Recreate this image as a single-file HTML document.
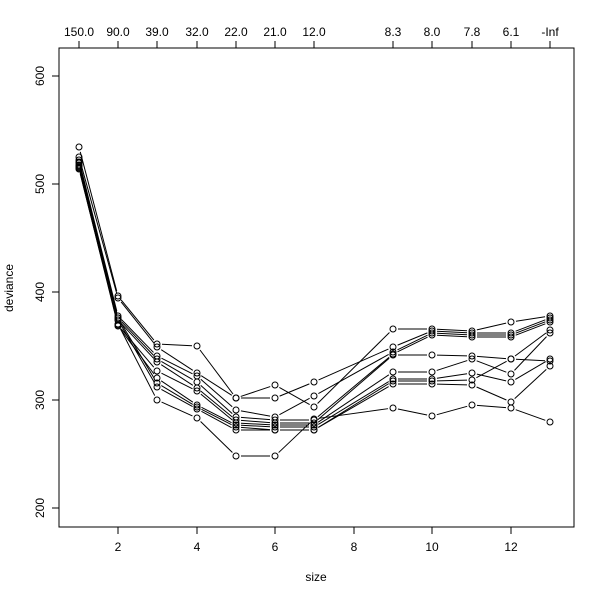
<!DOCTYPE html>
<html><head><style>body{margin:0;background:#fff}</style></head><body>
<svg width="600" height="600" xmlns="http://www.w3.org/2000/svg" font-family="Liberation Sans, sans-serif" font-size="12">
<rect x="59" y="48" width="515" height="479" fill="none" stroke="#000"/>
<g stroke="#000">
<line x1="118" y1="527" x2="118" y2="534"/><line x1="197" y1="527" x2="197" y2="534"/><line x1="275" y1="527" x2="275" y2="534"/><line x1="354" y1="527" x2="354" y2="534"/><line x1="432" y1="527" x2="432" y2="534"/><line x1="511" y1="527" x2="511" y2="534"/>
<line x1="59" y1="76" x2="52" y2="76"/><line x1="59" y1="184" x2="52" y2="184"/><line x1="59" y1="292" x2="52" y2="292"/><line x1="59" y1="400" x2="52" y2="400"/><line x1="59" y1="508" x2="52" y2="508"/>
<line x1="79" y1="48" x2="550" y2="48"/>
<line x1="79" y1="48" x2="79" y2="41"/><line x1="118" y1="48" x2="118" y2="41"/><line x1="157" y1="48" x2="157" y2="41"/><line x1="197" y1="48" x2="197" y2="41"/><line x1="236" y1="48" x2="236" y2="41"/><line x1="275" y1="48" x2="275" y2="41"/><line x1="314" y1="48" x2="314" y2="41"/><line x1="393" y1="48" x2="393" y2="41"/><line x1="432" y1="48" x2="432" y2="41"/><line x1="472" y1="48" x2="472" y2="41"/><line x1="511" y1="48" x2="511" y2="41"/><line x1="550" y1="48" x2="550" y2="41"/>
</g>
<g text-anchor="middle">
<text x="118" y="551">2</text><text x="197" y="551">4</text><text x="275" y="551">6</text><text x="354" y="551">8</text><text x="432" y="551">10</text><text x="511" y="551">12</text>
<text x="79" y="36">150.0</text><text x="118" y="36">90.0</text><text x="157" y="36">39.0</text><text x="197" y="36">32.0</text><text x="236" y="36">22.0</text><text x="275" y="36">21.0</text><text x="314" y="36">12.0</text><text x="393" y="36">8.3</text><text x="432" y="36">8.0</text><text x="472" y="36">7.8</text><text x="511" y="36">6.1</text><text x="550" y="36">-Inf</text>
<text x="316" y="581">size</text>
<g transform="rotate(-90)"><text x="-76" y="44">600</text><text x="-184" y="44">500</text><text x="-292" y="44">400</text><text x="-400" y="44">300</text><text x="-508" y="44">200</text><text x="-288" y="13">deviance</text></g>
</g>
<g id="s" fill="none" stroke="#000" stroke-width="1"></g>
</svg>
<script>
var xs=[79,118,157,197,236,275,314,393,432,472,511,550];
var S=[
[147,296,344,346,398,385,407,329,329,331,322,316],
[157,298,347,373,398,398,382,347,331,333,333,318],
[160,316,356,376,410,417,396,352,333,335,335,320],
[162,318,359,382,417,420,420,354,335,337,337,322],
[165,320,362,388,420,423,423,355,355,356,359,330],
[167,325,371,391,423,425,425,372,372,359,374,333],
[168,326,378,405,425,427,427,379,379,373,382,359],
[163,318,383,407,427,430,430,381,381,380,359,361],
[166,320,387,409,430,430,430,384,384,385,402,366],
[169,324,400,418,456,456,419,408,416,405,408,422]];
var g=document.getElementById('s'),h='';
S.forEach(function(r){for(var i=0;i<r.length;i++){var x=xs[i],y=r[i];h+='<circle cx="'+x+'" cy="'+y+'" r="3"/>';if(i<r.length-1){var x2=xs[i+1],y2=r[i+1],dx=x2-x,dy=y2-y,L=Math.sqrt(dx*dx+dy*dy),ux=dx/L*5,uy=dy/L*5;h+='<line x1="'+(x+ux)+'" y1="'+(y+uy)+'" x2="'+(x2-ux)+'" y2="'+(y2-uy)+'"/>';}}});
g.innerHTML=h;
</script>
</body></html>
